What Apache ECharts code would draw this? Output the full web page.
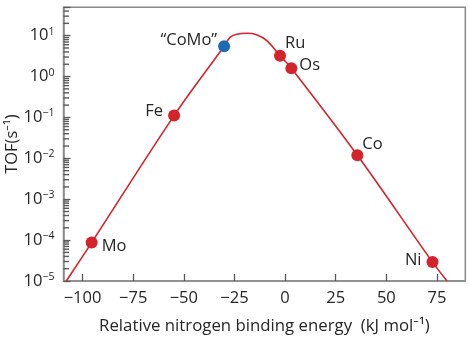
<!DOCTYPE html>
<html>
<head>
<meta charset="utf-8">
<script src="https://cdn.jsdelivr.net/npm/echarts@6/dist/echarts.min.js"></script>
<style>
html,body{margin:0;padding:0;background:#fff;}
#chart{width:471px;height:345px;}
</style>
</head>
<body>
<div id="chart"></div>
<script>
// ---- data ----
const xTicks = [-100, -75, -50, -25, 0, 25, 50, 75];
const yDecades = [-5, -4, -3, -2, -1, 0, 1];
const minorFactors = [2, 3, 4, 5, 6, 7, 8, 9];

const pointNames = ['Mo', 'Fe', '\u201CCoMo\u201D', 'Ru', 'Os', 'Co', 'Ni'];
const pointX     = [-95.5, -54.8, -30.1, -2.5, 3.1, 35.7, 72.8];
const pointTOF   = [8.7e-5, 0.111, 5.5, 3.24, 1.6, 0.0119, 2.9e-5];

const curveX   = [-108, -95.5, -54.8, -30.1, -27.2, -23.9, -18.9, -14, -9, -2.5, 3.1, 35.7, 72.8, 80];
const curveTOF = [1e-5, 8.7e-5, 0.111, 5.5, 9.1, 10.8, 11.5, 10.6, 7.55, 3.24, 1.6, 0.0119, 2.9e-5, 1e-5];

// ---- styling ----
const X_MIN = -109.4, X_MAX = 89;
const Y_MIN = 1e-5, Y_MAX = 49.4;
const FONT = '"Open Sans", "Noto Sans", sans-serif';
const TXT = '#262626';
const AXC = '#8a8a8a';
const TICKC = '#5a5a5a';
const RED = '#d4232b';
const BLUE = '#1c6cb4';

const labelStyle = {
  'Mo':   {position: 'right', distance: 4, offset: [0, 4]},
  'Fe':   {position: 'left', distance: 5, offset: [0, -4]},
  '\u201CCoMo\u201D': {position: 'left', distance: 1, offset: [0, -6]},
  'Ru':   {position: 'right', distance: 0, offset: [-1, -12]},
  'Os':   {position: 'right', distance: 2, offset: [0, -3]},
  'Co':   {position: 'right', distance: 0, offset: [-1, -11]},
  'Ni':   {position: 'left', distance: 5, offset: [0, -2]}
};
const pointColor = {'\u201CCoMo\u201D': BLUE};

// minor tick values on the log axis
const minorVals = [];
yDecades.forEach(d => minorFactors.forEach(f => {
  const v = f * Math.pow(10, d);
  if (v < Y_MAX) minorVals.push([X_MIN, v]);
}));

const curveData = curveX.map((x, i) => [x, curveTOF[i]]);
const pointData = pointNames.map((n, i) => ({
  name: n,
  value: [pointX[i], pointTOF[i]],
  itemStyle: {color: pointColor[n] || RED, opacity: 1},
  label: Object.assign({show: true, formatter: '{b}', color: TXT, fontSize: 16.5, fontFamily: FONT}, labelStyle[n])
}));

const chart = echarts.init(document.getElementById('chart'), null, {renderer: 'canvas'});
chart.setOption({
  animation: false,
  backgroundColor: '#fff',
  grid: {left: 63.5, right: 5.7, top: 7.3, bottom: 64, show: true, borderColor: AXC, borderWidth: 1.5,
         backgroundColor: 'transparent', containLabel: false, outerBoundsMode: 'none'},
  xAxis: {
    type: 'value', min: X_MIN, max: X_MAX,
    name: 'Relative nitrogen binding energy  (kJ mol\u207B\u00B9)',
    nameLocation: 'middle', nameGap: 37, nameMoveOverlap: false,
    nameTextStyle: {color: TXT, fontSize: 16.8, fontFamily: FONT},
    axisLine: {onZero: false, lineStyle: {color: AXC, width: 1.5}},
    axisTick: {inside: true, length: 7, customValues: xTicks, lineStyle: {color: TICKC, width: 1.3}},
    axisLabel: {customValues: xTicks, color: TXT, fontSize: 16.5, fontFamily: FONT, margin: 9,
      formatter: v => (v < 0 ? '\u2212' + Math.abs(v) : String(v))},
    splitLine: {show: false}
  },
  yAxis: {
    type: 'log', logBase: 10, min: Y_MIN, max: Y_MAX,
    name: 'TOF(s\u207B\u00B9)',
    nameLocation: 'middle', nameGap: 43, nameMoveOverlap: false,
    nameTextStyle: {color: TXT, fontSize: 16.5, fontFamily: FONT},
    axisLine: {onZero: false, lineStyle: {color: AXC, width: 1.5}},
    axisTick: {inside: true, length: 7, lineStyle: {color: TICKC, width: 1.3}},
    axisLabel: {
      color: TXT, fontSize: 16, fontFamily: FONT, margin: 9,
      formatter: v => {
        const e = Math.log10(v);
        const r = Math.round(e);
        if (Math.abs(e - r) > 1e-6) return '';
        const s = r < 0 ? '\u2212' + Math.abs(r) : String(r);
        return '{b|10}{s|' + s + '}';
      },
      rich: {
        b: {fontSize: 16.5, fontFamily: FONT, color: TXT},
        s: {fontSize: 10.5, fontFamily: FONT, color: TXT, padding: [0, 0, 8, 0]}
      }
    },
    splitLine: {show: false}
  },
  series: [
    {
      type: 'scatter', silent: true, z: 10,
      data: minorVals,
      symbol: 'rect', symbolSize: [5.5, 1.4], symbolOffset: [2.75, 0],
      itemStyle: {color: TICKC, opacity: 1},
      clip: false
    },
    {
      type: 'line', data: curveData, smooth: 0.35, symbol: 'none', clip: true,
      lineStyle: {color: RED, width: 1.6}, z: 2
    },
    {
      type: 'scatter', data: pointData, symbolSize: 12, z: 3
    }
  ]
});
</script>
</body>
</html>
